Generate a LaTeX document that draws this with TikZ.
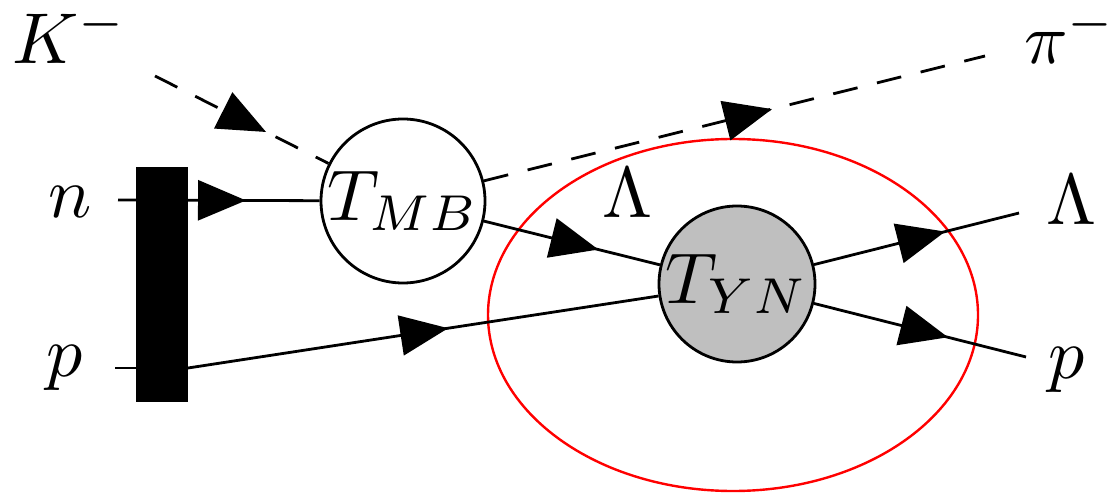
\documentclass[tikz,border=0pt]{standalone}
\usetikzlibrary{arrows.meta,decorations.markings,shapes.geometric}
\newcommand{\Sc}[1]{\scalebox{7.2}{#1}}
\begin{document}
\tikzset{
  lbl/.style={anchor=base west, inner sep=0pt},
  ln/.style={line width=2.8pt},
  marrow/.style={postaction={decorate}, decoration={markings, mark=at position #1 with {\arrow{Triangle[length=48pt,width=40pt]}}}},
  dsh/.style={dash pattern=on 25pt off 20pt},
}
\begin{tikzpicture}[x=1pt,y=-1pt]
\useasboundingbox (0,0) rectangle (1107,494);
% red region
\node[ellipse, draw=red, line width=2.4pt, minimum width=490pt, minimum height=352pt, inner sep=0pt] (region) at (733,315) {};
% vertices
\node[circle, draw, ln, fill=white, minimum size=164pt, inner sep=0pt] (TMB) at (403,201) {\makebox[0pt]{\Sc{$T_{MB}$}}};
\node[circle, draw, ln, fill=black!25, minimum size=156pt, inner sep=0pt] (TYN) at (737,284) {\makebox[0pt]{\Sc{$T_{YN}$}}};
\node[rectangle, fill=black, minimum width=52pt, minimum height=235pt, inner sep=0pt] (bar) at (162,284.5) {};
% free ends
\coordinate (nL) at (118,200);
\coordinate (pL) at (115,368);
\coordinate (pIn) at (188,368);
\coordinate (Kend) at (155,76);
\coordinate (piend) at (985,56);
\coordinate (Lend) at (1019,213);
\coordinate (pend) at (1026,357);
% lines
\draw[ln, marrow=0.635] (nL) -- (TMB);
\draw[ln] (pL) -- (pIn);
\draw[ln, marrow=0.553] (pIn) -- (TYN);
\draw[ln, dsh, marrow=0.64] (Kend) -- (TMB);
\draw[ln, dsh, marrow=0.575] (TMB) -- (piend);
\draw[ln, marrow=0.65] (TMB) -- (TYN);
\draw[ln, marrow=0.64] (TYN) -- (Lend);
\draw[ln, marrow=0.632] (TYN) -- (pend);
% labels
\node[lbl] (lK) at (12,64) {\Sc{$K^-$}};
\node[lbl] (ln) at (48,218) {\Sc{$n$}};
\node[lbl] (lp) at (46,376) {\Sc{$p$}};
\node[lbl] (lLmid) at (602,218) {\Sc{$\Lambda$}};
\node[lbl] (lpi) at (1024,64) {\Sc{$\pi^-$}};
\node[lbl] (lLout) at (1046,225) {\Sc{$\Lambda$}};
\node[lbl] (lpout) at (1048,378) {\Sc{$p$}};
\end{tikzpicture}
\end{document}
